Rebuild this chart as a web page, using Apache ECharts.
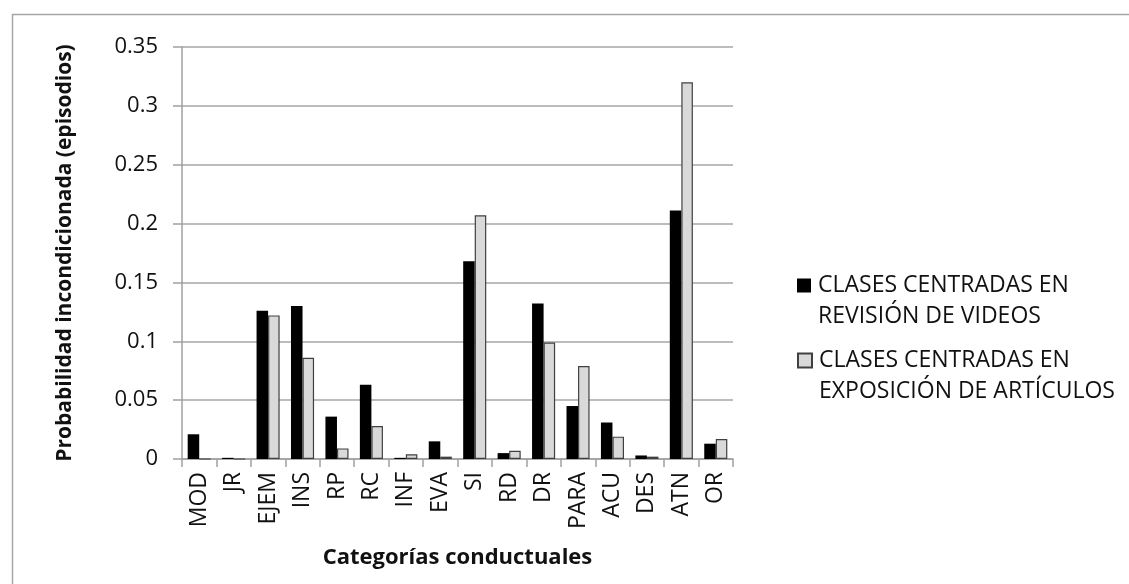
<!DOCTYPE html>
<html>
<head>
<meta charset="utf-8">
<script src="https://cdn.jsdelivr.net/npm/echarts@6/dist/echarts.min.js"></script>
<style>
html,body{margin:0;padding:0;background:#fff;}
#chart{width:1129px;height:584px;}
</style>
</head>
<body>
<div id="chart"></div>
<script>
var categories = ['MOD','JR','EJEM','INS','RP','RC','INF','EVA','SI','RD','DR','PARA','ACU','DES','ATN','OR'];
var videos    = [0.021,0.001,0.126,0.130,0.036,0.063,0.001,0.015,0.168,0.005,0.132,0.045,0.031,0.003,0.211,0.013];
var articulos = [0.000,0.000,0.122,0.086,0.009,0.028,0.004,0.002,0.207,0.007,0.099,0.079,0.019,0.002,0.320,0.017];
var yTicks = [0,0.05,0.1,0.15,0.2,0.25,0.3,0.35];
var seriesNames = ['CLASES CENTRADAS EN\nREVISIÓN DE VIDEOS','CLASES CENTRADAS EN\nEXPOSICIÓN DE ARTÍCULOS'];

var FONT = '"Open Sans", sans-serif';
var TXT = '#111';
function legendFor(name, top){
  return {
    orient:'vertical',left:797,top:top,padding:0,itemWidth:14,itemHeight:14,
    icon:'rect',
    formatter:function(n){return '\n'+n;},
    textStyle:{fontFamily:FONT,fontSize:23,color:TXT,lineHeight:31,padding:[0,0,0,2]},
    data:[name]
  };
}
var chart = echarts.init(document.getElementById('chart'), null, {renderer:'canvas'});
chart.setOption({
  backgroundColor:'#fff',
  animation:false,
  textStyle:{fontFamily:FONT},
  graphic:[{type:'rect',left:10,top:12,shape:{width:1300,height:800},style:{fill:'none',stroke:'#a6a6a6',lineWidth:1.5},silent:true,z:-1}],
  grid:{left:182,top:47,width:551,bottom:125},
  legend:[legendFor(seriesNames[0],239), legendFor(seriesNames[1],314)],
  xAxis:{
    type:'category',data:categories,
    name:'Categorías conductuales',nameLocation:'middle',nameGap:88,
    nameTextStyle:{fontFamily:FONT,fontSize:22,fontWeight:'bold',color:TXT},
    axisLine:{lineStyle:{color:'#a0a0a0',width:1.5}},
    axisTick:{show:true,alignWithLabel:false,length:8,lineStyle:{color:'#a0a0a0',width:1.5}},
    axisLabel:{rotate:90,fontSize:23,color:TXT,margin:13,interval:0}
  },
  yAxis:{
    type:'value',min:0,max:0.35,interval:0.05,
    name:'Probabilidad incondicionada (episodios)',nameLocation:'middle',nameGap:106,
    nameTextStyle:{fontFamily:FONT,fontSize:21,fontWeight:'bold',color:TXT},
    axisLine:{show:true,lineStyle:{color:'#a0a0a0',width:1.5}},
    axisTick:{show:true,length:9,lineStyle:{color:'#a0a0a0',width:1.5}},
    axisLabel:{fontSize:22,color:TXT,margin:24,
      formatter:function(v){var i=yTicks.indexOf(Math.round(v*100)/100);return i>=0?String(yTicks[i]):'';}},
    splitLine:{lineStyle:{color:'#a6a6a6',width:1.5}}
  },
  series:[
    {name:seriesNames[0],type:'bar',data:videos,barGap:'0%',barCategoryGap:'33%',
     itemStyle:{color:'#000',borderColor:'#000',borderWidth:0}},
    {name:seriesNames[1],type:'bar',data:articulos,barGap:'0%',barCategoryGap:'33%',
     itemStyle:{color:'#d9d9d9',borderColor:'#404040',borderWidth:1.2}}
  ]
});
</script>
</body>
</html>
